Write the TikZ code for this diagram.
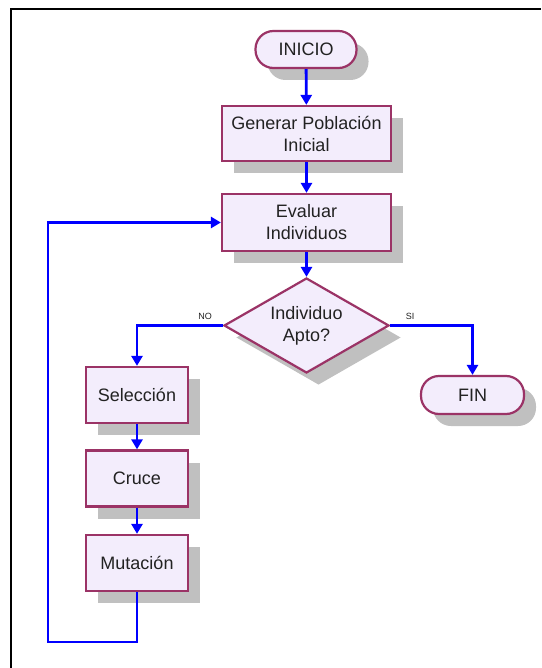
\documentclass[tikz,border=0pt]{standalone}
\usepackage{fontspec}
\setmainfont{Liberation Sans}
\usetikzlibrary{shapes.geometric,shadows,arrows.meta}
\definecolor{bordc}{HTML}{9B3366}
\definecolor{fillc}{HTML}{F3EDFC}
\definecolor{shad}{HTML}{C0C0C0}
\definecolor{flow}{HTML}{0000FF}
\definecolor{txt}{HTML}{222222}
\begin{document}
\begin{tikzpicture}[x=1pt,y=-1pt,
  base/.style={draw=bordc, line width=2.2pt, fill=fillc, text=txt,
    font=\fontsize{18}{22}\selectfont, align=center, inner sep=0pt,
    drop shadow={shadow xshift=12pt, shadow yshift=-12pt, fill=shad, opacity=1}},
  procbox/.style={base, rectangle},
  termbox/.style={base, rectangle, rounded corners=18pt},
  decision/.style={base, diamond, aspect=1.74, minimum width=165pt, minimum height=95pt},
  flowline/.style={draw=flow, line width=2.8pt, -{Triangle[length=10pt,width=11pt]}},
  lbl/.style={font=\fontsize{9}{10}\selectfont, text=txt, inner sep=0pt}]
\useasboundingbox (0,0) rectangle (541,668);
\fill[white] (0,0) rectangle (541,668);
\draw[line width=2.4pt] (11,668) -- (11,9) -- (541,9);

\node[termbox, minimum width=101pt, minimum height=37pt] (ini) at (306,49.5) {INICIO};
\node[procbox, minimum width=169pt, minimum height=55pt] (gen) at (306.5,133.5) {Generar Población\\Inicial};
\node[procbox, minimum width=169pt, minimum height=57pt] (eva) at (306.5,222.5) {Evaluar\\Individuos};
\node[decision] (apt) at (306.5,325.5) {Individuo\\Apto?};
\node[procbox, minimum width=102pt, minimum height=56pt] (sel) at (137,395) {Selección};
\node[procbox, minimum width=102pt, minimum height=56pt] (cru) at (137,478.5) {Cruce};
\node[procbox, minimum width=102pt, minimum height=56pt] (mut) at (137,563) {Mutación};
\node[termbox, minimum width=103pt, minimum height=38pt] (fin) at (472.5,395) {FIN};

\node[lbl] (no) at (205,316) {NO};
\node[lbl] (si) at (410,316) {SI};

\coordinate (lb) at (48,642);
\coordinate (lt) at (48,222.5);

\draw[flowline] (ini) -- (gen);
\draw[flowline] (gen) -- (eva);
\draw[flowline] (eva) -- (apt);
\draw[flowline] (apt.west) -| (sel.north);
\draw[flowline] (apt.east) -| (fin.north);
\draw[flowline] (sel) -- (cru);
\draw[flowline] (cru) -- (mut);
\draw[flowline] (mut.south) -- (mut.south |- lb) -- (lb) -- (lt) -- (eva.west);
\end{tikzpicture}
\end{document}
